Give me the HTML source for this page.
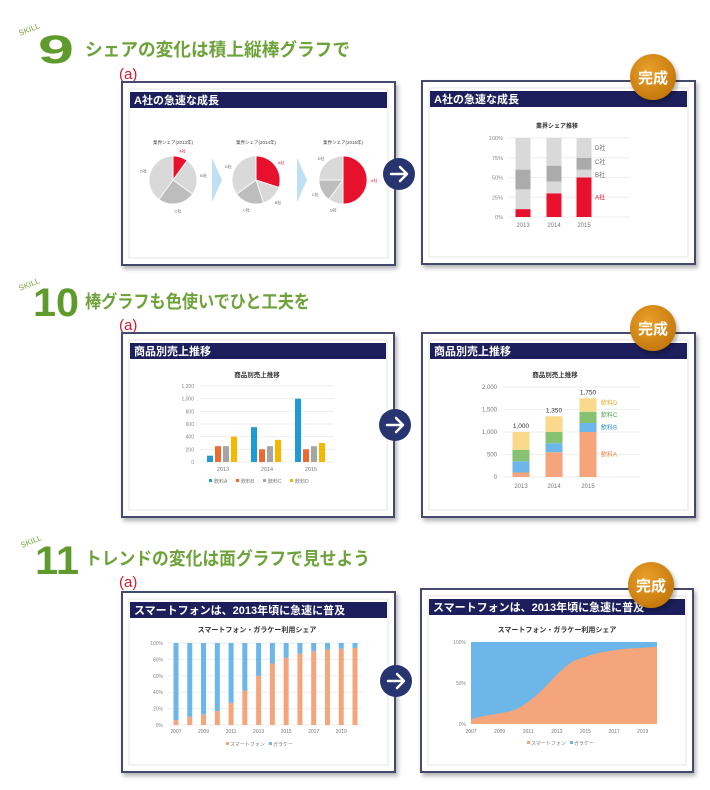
<!DOCTYPE html>
<html><head><meta charset="utf-8"><style>
html,body{margin:0;padding:0;background:#fff;}
svg{display:block;font-family:"Liberation Sans","Noto Sans CJK JP",sans-serif;}
</style></head><body>
<svg id="s" width="710" height="790" viewBox="0 0 710 790" xmlns="http://www.w3.org/2000/svg">
<defs>
<filter id="sh" x="-5%" y="-5%" width="115%" height="115%"><feDropShadow dx="2" dy="3" stdDeviation="2" flood-color="#000" flood-opacity="0.3"/></filter>
<radialGradient id="bg" cx="40%" cy="35%" r="70%"><stop offset="0" stop-color="#eaa02a"/><stop offset="1" stop-color="#c2760a"/></radialGradient>
</defs>
<g>
<text x="20" y="36" font-size="8" fill="#7aa842" transform="rotate(-22 20 36)">SKILL</text>
<text x="38" y="63" font-size="40" font-weight="bold" fill="#5e9a2c" textLength="36" lengthAdjust="spacingAndGlyphs">9</text>
<text x="85" y="56" font-size="18" font-weight="bold" fill="#6ea23a" textLength="265" lengthAdjust="spacingAndGlyphs">シェアの変化は積上縦棒グラフで</text>
<text x="119" y="79" font-size="15" fill="#d8192b">(a)</text>
</g>
<g>
<text x="20" y="291" font-size="8" fill="#7aa842" transform="rotate(-22 20 291)">SKILL</text>
<text x="33" y="316" font-size="40" font-weight="bold" fill="#5e9a2c" textLength="46" lengthAdjust="spacingAndGlyphs">10</text>
<text x="85" y="308" font-size="18" font-weight="bold" fill="#6ea23a" textLength="225" lengthAdjust="spacingAndGlyphs">棒グラフも色使いでひと工夫を</text>
<text x="119" y="330" font-size="15" fill="#d8192b">(a)</text>
</g>
<g>
<text x="22" y="548" font-size="8" fill="#7aa842" transform="rotate(-22 22 548)">SKILL</text>
<text x="35" y="574" font-size="40" font-weight="bold" fill="#5e9a2c" textLength="44" lengthAdjust="spacingAndGlyphs">11</text>
<text x="85" y="565" font-size="18" font-weight="bold" fill="#6ea23a" textLength="285" lengthAdjust="spacingAndGlyphs">トレンドの変化は面グラフで見せよう</text>
<text x="119" y="587" font-size="15" fill="#d8192b">(a)</text>
</g>
<g id="panels"></g>
</svg>
<script>
const NS='http://www.w3.org/2000/svg';
const S=document.getElementById('panels');
function mk(t,a,p,txt){const e=document.createElementNS(NS,t);for(const k in a)e.setAttribute(k,a[k]);if(txt!==undefined)e.textContent=txt;(p||S).appendChild(e);return e;}

// ---- data ----
const pieYears=['2013','2014','2015'];
const pieA=[10,30,50];const pieB=[25,15,10];const pieC=[25,20,15];const pieD=[40,35,25];
const shareYears=['2013','2014','2015'];
const shareA=[10,30,50];const shareB=[25,15,10];const shareC=[25,20,15];const shareD=[40,35,25];
const shareTicks=['0%','25%','50%','75%','100%'];
const salesYears=['2013','2014','2015'];
const salesA=[100,550,1000];const salesB=[250,200,200];const salesC=[250,250,250];const salesD=[400,350,300];
const salesTicks=[0,200,400,600,800,1000,1200];
const stackTicks=[0,500,1000,1500,2000];
const phoneYears=[2007,2008,2009,2010,2011,2012,2013,2014,2015,2016,2017,2018,2019,2020];
const smartShare=[6,10,13,17,27,42,60,75,82,87,90,92,93,94];
const pctTicks=[0,20,40,60,80,100];
const areaTicks=[0,50,100];

function fmt(n){return n.toLocaleString('en-US');}

function panel(x,y,w,h,title,name,badge){
  const g=mk('g',{});
  
  
  const b=mk('rect',{x:x,y:y,width:w,height:h,fill:'#fff',stroke:'#444a6e','stroke-width':2,filter:'url(#sh)'},g);
  
  
  const inn=mk('rect',{x:x+7,y:y+7,width:w-14,height:h-14,fill:'none',stroke:'#e4e4e4'},g);
  
  
  const hb=mk('rect',{x:x+8,y:y+10,width:w-16,height:16,fill:'#1c1f5c'},g);
  
  
  const ht=mk('text',{x:x+12,y:y+22,'font-size':11,'font-weight':'bold',fill:'#fff'},g,title);
  
  
  if(badge){
    const c=mk('circle',{cx:badge[0],cy:badge[1],r:23,fill:'url(#bg)',filter:'url(#sh)'},g);
    
    
    const t=mk('text',{x:badge[0],y:badge[1]+6,'font-size':15,'font-weight':'bold',fill:'#fff','text-anchor':'middle'},g,'完成');
    
    
  }
  return g;
}
function arrow(cx,cy){
  const g=mk('g',{});
  
  
  mk('circle',{cx:cx,cy:cy,r:16,fill:'#27346f'},g);
  mk('path',{d:`M${cx-8} ${cy}H${cx+7}M${cx+1} ${cy-7}L${cx+8} ${cy}L${cx+1} ${cy+7}`,stroke:'#fff','stroke-width':2.5,fill:'none','stroke-linecap':'round','stroke-linejoin':'round'},g);
}
function txt(x,y,s,t,o,name){
  const a=Object.assign({x:x,y:y,'font-size':s,fill:'#666'},o||{});
  const e=mk('text',a,undefined,t);
  
  
  return e;
}

// ===== Section 1 =====
panel(122,82,273,183,'A社の急速な成長','panel-pie-before');
arrow(399,174);
panel(422,81,273,183,'A社の急速な成長','panel-share-after',[653,77]);
const pieCx=[173,256,343];const pieCol=['#e8112d','#d9d9d9','#bdbdbd','#d9d9d9'];
pieYears.forEach((yr,i)=>{
  const cx=pieCx[i],cy=180,r=24;
  txt(cx,144,4.5,'業界シェア('+yr+'年)',{fill:'#444','text-anchor':'middle'},'pie-title');
  const vals=[pieA[i],pieB[i],pieC[i],pieD[i]];
  let a0=0;
  vals.forEach((v,k)=>{
    const a1=a0+v/100*2*Math.PI;
    const x0=cx+r*Math.sin(a0),y0=cy-r*Math.cos(a0),x1=cx+r*Math.sin(a1),y1=cy-r*Math.cos(a1);
    const p=mk('path',{d:`M${cx} ${cy}L${x0} ${y0}A${r} ${r} 0 ${a1-a0>Math.PI?1:0} 1 ${x1} ${y1}Z`,fill:pieCol[k],stroke:'#fff','stroke-width':0.8});
    
    
    const am=(a0+a1)/2;
    txt(cx+(r+7)*Math.sin(am),cy-(r+7)*Math.cos(am)+2,4,['A社','B社','C社','D社'][k],{fill:k==0?'#e8112d':'#666','text-anchor':'middle'},'pie-label');
    a0=a1;
  });
});
[212,297].forEach(x=>{
  const c=mk('path',{d:`M${x} 158L${x+10} 180L${x} 202Z`,fill:'#bfe0f4'});
  
  
});
(function(){
  const y0=217,y1=138,xs=[523,554,584],bw=15;
  const Y=v=>y0-(y0-y1)*v/100;
  txt(557,128,6,'業界シェア推移',{fill:'#333','text-anchor':'middle','font-weight':'bold'},'chart-title');
  shareTicks.forEach((t,i)=>{
    const g=mk('line',{x1:508,x2:630,y1:Y(i*25),y2:Y(i*25),stroke:'#eee'});
    
    
    txt(503,Y(i*25)+2,5.5,t,{'text-anchor':'end',fill:'#888'},'y-tick');
  });
  const cols=['#e8112d','#d9d9d9','#ababab','#d9d9d9'];
  shareYears.forEach((yr,i)=>{
    const vals=[shareA[i],shareB[i],shareC[i],shareD[i]];let acc=0;
    vals.forEach((v,k)=>{
      const r=mk('rect',{x:xs[i]-bw/2,y:Y(acc+v),width:bw,height:Y(acc)-Y(acc+v),fill:cols[k]});
      
      
      acc+=v;
    });
    txt(xs[i],227,6,yr,{'text-anchor':'middle',fill:'#777'},'x-tick');
  });
  const last=shareYears.length-1;
  const mids=[shareA[last]/2,shareA[last]+shareB[last]/2,shareA[last]+shareB[last]+shareC[last]/2,100-shareD[last]/2];
  ['A社','B社','C社','D社'].forEach((n,k)=>{
    let m=mids[k];if(k==1)m-=2;if(k==2)m+=2;
    txt(595,Y(m)+2,6,n,{fill:k==0?'#e8112d':'#666'},'series-label');
  });
})();

// ===== Section 2 =====
panel(122,333,272,184,'商品別売上推移','panel-sales-before');
arrow(395,425);
panel(422,333,273,184,'商品別売上推移','panel-sales-after',[653,328]);
(function(){
  const y0=462,y1=386,gx=[223,267,311],bw=6;
  const Y=v=>y0-(y0-y1)*v/1200;
  txt(257,377,6.5,'商品別売上推移',{fill:'#333','text-anchor':'middle','font-weight':'bold'},'chart-title');
  salesTicks.forEach(t=>{
    const g=mk('line',{x1:200,x2:334,y1:Y(t),y2:Y(t),stroke:'#eee'});
    
    
    txt(194,Y(t)+2,5,fmt(t),{'text-anchor':'end',fill:'#888'},'y-tick');
  });
  const cols=['#1f9ad6','#ed6b2e','#a5a5a5','#f5b800'];
  salesYears.forEach((yr,i)=>{
    [salesA[i],salesB[i],salesC[i],salesD[i]].forEach((v,k)=>{
      const r=mk('rect',{x:gx[i]-16+k*8,y:Y(v),width:bw,height:y0-Y(v),fill:cols[k]});
      
      
    });
    txt(gx[i],471,5.5,yr,{'text-anchor':'middle',fill:'#777'},'x-tick');
  });
  ['飲料A','飲料B','飲料C','飲料D'].forEach((n,k)=>{
    const x=209+k*27;
    const r=mk('rect',{x:x,y:479,width:3,height:3,fill:cols[k]});
    
    
    txt(x+5,483,5,n,{fill:'#777'},'legend-entry');
  });
})();
(function(){
  const y0=477,y1=387,xs=[521,554,588],bw=17;
  const Y=v=>y0-(y0-y1)*v/2000;
  txt(555,377,6.5,'商品別売上推移',{fill:'#333','text-anchor':'middle','font-weight':'bold'},'chart-title');
  stackTicks.forEach(t=>{
    const g=mk('line',{x1:503,x2:640,y1:Y(t),y2:Y(t),stroke:'#eee'});
    
    
    txt(497,Y(t)+2,6,fmt(t),{'text-anchor':'end',fill:'#777'},'y-tick');
  });
  const cols=['#f4a57c','#6cb6e9','#86c270','#fad88c'];
  salesYears.forEach((yr,i)=>{
    const vals=[salesA[i],salesB[i],salesC[i],salesD[i]];let acc=0;
    vals.forEach((v,k)=>{
      const r=mk('rect',{x:xs[i]-bw/2,y:Y(acc+v),width:bw,height:Y(acc)-Y(acc+v),fill:cols[k]});
      
      
      acc+=v;
    });
    txt(xs[i],Y(acc)-4,6.5,fmt(acc),{'text-anchor':'middle',fill:'#333'},'total-label');
    txt(xs[i],488,6,yr,{'text-anchor':'middle',fill:'#777'},'x-tick');
  });
  const L=salesYears.length-1;
  const a=salesA[L],b=salesB[L],c=salesC[L],d=salesD[L];
  const mids=[a/2,a+b/2,a+b+c/2+50,a+b+c+d/2+50];
  const lc=['#e8823f','#2e8fd0','#4f9f45','#e5a928'];
  ['飲料A','飲料B','飲料C','飲料D'].forEach((n,k)=>{
    txt(601,Y(mids[k])+2,6,n,{fill:lc[k]},'series-label');
  });
})();

// ===== Section 3 =====
panel(122,592,273,180,'スマートフォンは、2013年頃に急速に普及','panel-phone-before');
arrow(396,681);
panel(421,589,272,183,'スマートフォンは、2013年頃に急速に普及','panel-phone-after',[651,585]);
(function(){
  const y0=725,y1=643,x0=176,step=(355-176)/(phoneYears.length-1),bw=5;
  const Y=v=>y0-(y0-y1)*v/100;
  txt(257,632,7,'スマートフォン・ガラケー利用シェア',{fill:'#333','text-anchor':'middle','font-weight':'bold'},'chart-title');
  pctTicks.forEach(t=>{
    const g=mk('line',{x1:168,x2:362,y1:Y(t),y2:Y(t),stroke:'#eee'});
    
    
    txt(163,Y(t)+2,5,t+'%',{'text-anchor':'end',fill:'#888'},'y-tick');
  });
  phoneYears.forEach((yr,i)=>{
    const x=x0+i*step,v=smartShare[i];
    const a=mk('rect',{x:x-bw/2,y:Y(v),width:bw,height:y0-Y(v),fill:'#f4a57c'});
    
    
    const b=mk('rect',{x:x-bw/2,y:Y(100),width:bw,height:Y(v)-Y(100),fill:'#6cb6e9'});
    
    
    if(i%2==0)txt(x,733,5,String(yr),{'text-anchor':'middle',fill:'#777'},'x-tick');
  });
  const r1=mk('rect',{x:226,y:742,width:3,height:3,fill:'#f4a57c'});
  
  
  txt(230,746,5,'スマートフォン',{fill:'#777'},'legend-entry');
  const r2=mk('rect',{x:269,y:742,width:3,height:3,fill:'#6cb6e9'});
  
  
  txt(273,746,5,'ガラケー',{fill:'#777'},'legend-entry');
})();
(function(){
  const y0=724,y1=642,x0=471,x1=657;
  const X=i=>x0+(x1-x0)*i/(phoneYears.length-1);
  const Y=v=>y0-(y0-y1)*v/100;
  txt(557,632,7,'スマートフォン・ガラケー利用シェア',{fill:'#333','text-anchor':'middle','font-weight':'bold'},'chart-title');
  const bl=mk('rect',{x:x0,y:y1,width:x1-x0,height:y0-y1,fill:'#6cb6e9'});
  
  
  let d=`M${x0} ${y0}`;
  const pts=smartShare.map((v,i)=>[X(i),Y(v)]);
  d+=`L${pts[0][0]} ${pts[0][1]}`;
  for(let i=1;i<pts.length;i++){
    const p0=pts[Math.max(i-2,0)],p1=pts[i-1],p2=pts[i],p3=pts[Math.min(i+1,pts.length-1)];
    d+=`C${p1[0]+(p2[0]-p0[0])/6} ${p1[1]+(p2[1]-p0[1])/6} ${p2[0]-(p3[0]-p1[0])/6} ${p2[1]-(p3[1]-p1[1])/6} ${p2[0]} ${p2[1]}`;
  }
  d+=`L${x1} ${y0}Z`;
  const ar=mk('path',{d:d,fill:'#f4a57c'});
  
  
  areaTicks.forEach(t=>txt(466,Y(t)+2,5,t+'%',{'text-anchor':'end',fill:'#888'},'y-tick'));
  phoneYears.forEach((yr,i)=>{if(i%2==0)txt(X(i),733,5,String(yr),{'text-anchor':'middle',fill:'#777'},'x-tick');});
  const r1=mk('rect',{x:527,y:741,width:3,height:3,fill:'#f4a57c'});
  
  
  txt(531,745,5,'スマートフォン',{fill:'#777'},'legend-entry');
  const r2=mk('rect',{x:570,y:741,width:3,height:3,fill:'#6cb6e9'});
  
  
  txt(574,745,5,'ガラケー',{fill:'#777'},'legend-entry');
})();
</script>
</body></html>
